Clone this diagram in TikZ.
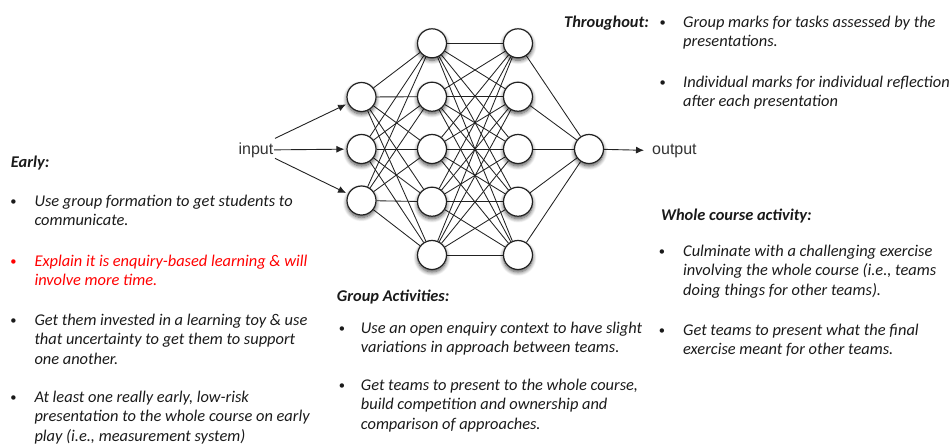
\documentclass[tikz,border=0pt]{standalone}
\usepackage{fontspec}
\setmainfont{Carlito}
\newfontfamily\netfont{Liberation Sans}
\usetikzlibrary{arrows.meta,shadows.blur,backgrounds}
\definecolor{txtcol}{HTML}{1A1A1A}
\definecolor{redtxt}{HTML}{FF0000}
\definecolor{netcol}{HTML}{222222}
\begin{document}
\begin{tikzpicture}[x=1pt,y=-1pt,
  neuron/.style={circle,draw=netcol,line width=1.2pt,fill=white,minimum size=29pt,inner sep=0pt,
    blur shadow={shadow xshift=0pt,shadow yshift=-2.5pt,shadow blur steps=8,shadow blur radius=4pt,shadow opacity=70}},
  link/.style={line width=0.85pt,draw=netcol},
  arr/.style={line width=0.9pt,draw=netcol,-{Latex[length=8pt,width=7pt]}},
  netlabel/.style={inner sep=0pt,font=\netfont\fontsize{16}{18}\selectfont,text=black!80},
  txt/.style={anchor=base west,inner sep=0pt,align=left,text=txtcol,font=\fontsize{16.4}{19.6}\selectfont\itshape},
  head/.style={anchor=base west,inner sep=0pt,text=txtcol,font=\fontsize{16.4}{19.6}\selectfont\bfseries\itshape},
  bul/.style={anchor=base,inner sep=0pt,text=txtcol,font=\fontsize{12.5}{15}\selectfont}]
\useasboundingbox (0,0) rectangle (950,445);

% ---------- network ----------
\node[neuron] (l1-1) at (361.5,97) {};
\node[neuron] (l1-2) at (361.5,149) {};
\node[neuron] (l1-3) at (361.5,200.5) {};
\foreach \j/\y in {1/43.3,2/96.7,3/149,4/201.7,5/255}{
  \node[neuron] (l2-\j) at (432,\y) {};
  \node[neuron] (l3-\j) at (518,\y) {};
}
\node[neuron] (out) at (589,149) {};

\begin{scope}[on background layer]
  \foreach \i in {1,2,3}{\foreach \j in {1,...,5}{\draw[link] (l1-\i) -- (l2-\j);}}
  \foreach \i in {1,...,5}{\foreach \j in {1,...,5}{\draw[link] (l2-\i) -- (l3-\j);}}
  \foreach \i in {1,...,5}{\draw[link] (l3-\i) -- (out);}
\end{scope}

\node[netlabel,anchor=base east] (in) at (273.5,154) {input};
\node[netlabel,anchor=base west] (outlbl) at (652,154) {output};
\draw[arr,shorten >=2pt] ([xshift=1.5pt,yshift=11.5pt]in.east) -- (l1-1);
\draw[arr,shorten >=2pt] ([xshift=0.5pt]in.east) -- (l1-2);
\draw[arr,shorten >=2pt] ([xshift=1.5pt,yshift=-8.5pt]in.east) -- (l1-3);
\draw[arr,shorten >=8pt] (out) -- (outlbl.west);

% multi-line nodes: the base anchor is the baseline of the LAST line
% ---------- Early ----------
\node[head] (eh) at (10.7,167) {Early:};
\node[bul] (eb1) at (13.5,205.5) {\textbullet};
\node[txt] (e1) at (34.3,225.6) {Use group formation to get students to\\communicate.};
\node[bul,text=redtxt] (eb2) at (13.5,265.5) {\textbullet};
\node[txt,text=redtxt] (e2) at (34.3,285.6) {Explain it is enquiry-based learning \& will\\involve more time.};
\node[bul] (eb3) at (13.5,324.5) {\textbullet};
\node[txt] (e3) at (34.3,364.2) {Get them invested in a learning toy \& use\\that uncertainty to get them to support\\one another.};
\node[bul] (eb4) at (13.5,401.5) {\textbullet};
\node[txt] (e4) at (34.3,441.2) {At least one really early, low-risk\\presentation to the whole course on early\\play (i.e., measurement system)};

% ---------- Group Activities ----------
\node[head] (gh) at (336.7,301) {Group Activities:};
\node[bul] (gb1) at (342,332.5) {\textbullet};
\node[txt] (g1) at (360.7,352.6) {Use an open enquiry context to have slight\\variations in approach between teams.};
\node[bul] (gb2) at (342,389.5) {\textbullet};
\node[txt] (g2) at (360.7,429.2) {Get teams to present to the whole course,\\build competition and ownership and\\comparison of approaches.};

% ---------- Throughout ----------
\node[head,anchor=base east] (th) at (649,27) {Throughout:};
\node[bul] (tb1) at (662.7,26.5) {\textbullet};
\node[txt] (t1) at (683,46.6) {Group marks for tasks assessed by the\\presentations.};
\node[bul] (tb2) at (662.7,86.5) {\textbullet};
\node[txt] (t2) at (683,106.6) {Individual marks for individual reflection\\after each presentation};

% ---------- Whole course activity ----------
\node[head] (wh) at (661,220) {Whole course activity:};
\node[bul] (wb1) at (662,255.5) {\textbullet};
\node[txt] (w1) at (683,295.2) {Culminate with a challenging exercise\\involving the whole course (i.e., teams\\doing things for other teams).};
\node[bul] (wb2) at (662,334.5) {\textbullet};
\node[txt] (w2) at (683,354.6) {Get teams to present what the final\\exercise meant for other teams.};
\end{tikzpicture}
\end{document}
